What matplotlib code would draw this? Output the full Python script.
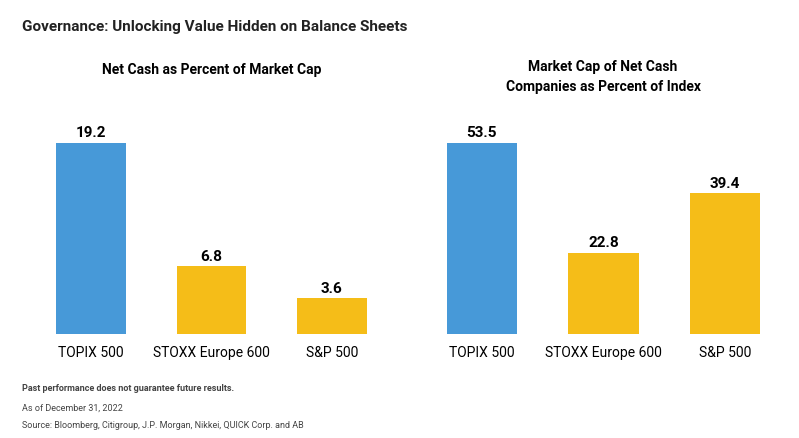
import matplotlib.pyplot as plt

labels = ["TOPIX 500", "STOXX Europe 600", "S&P 500"]
net_cash_pct = [19.2, 6.8, 3.6]
net_cash_cos_pct = [53.5, 22.8, 39.4]
colors = ["#4799d8", "#f5bd18", "#f5bd18"]

W, H = 799, 439
fig = plt.figure(figsize=(W / 100, H / 100), dpi=100)
plt.rcParams['font.family'] = ['Roboto', 'DejaVu Sans']

def px_axes(x0, x1, y0, y1):
  return fig.add_axes([x0 / W, 1 - y1 / H, (x1 - x0) / W, (y1 - y0) / H])

def panel(ax, values, ymax):
  x = range(len(values))
  ax.bar(x, values, width=0.58, color=colors)
  for i, v in enumerate(values):
    ax.text(i, v + ymax * 0.015, f"{v:.1f}", ha='center', va='bottom',
            fontsize=11, fontweight='bold')
  ax.set_xlim(-0.5, 2.5)
  ax.set_ylim(0, ymax)
  ax.set_xticks(list(x))
  ax.set_xticklabels(labels, fontsize=10)
  ax.tick_params(axis='x', length=0, pad=8)
  ax.set_yticks([])
  for s in ax.spines.values():
    s.set_visible(False)

ax1 = px_axes(31, 392, 100, 335)
panel(ax1, net_cash_pct, 23.6)
ax2 = px_axes(421, 786, 100, 335)
panel(ax2, net_cash_cos_pct, 65.8)

fig.text(22 / W, 1 - 27 / H, "Governance: Unlocking Value Hidden on Balance Sheets",
         fontsize=11, fontweight='bold', va='center', color='#222222')
fig.text(212 / W, 1 - 70 / H, "Net Cash as Percent of Market Cap",
         fontsize=10, fontweight='bold', ha='center', va='center')
fig.text(603 / W, 1 - 77 / H, "Market Cap of Net Cash\nCompanies as Percent of Index",
         fontsize=10, fontweight='bold', ha='center', va='center', linespacing=1.5)
fig.text(22 / W, 1 - 389 / H, "Past performance does not guarantee future results.",
         fontsize=6.5, fontweight='bold', va='center', color='#444444')
fig.text(22 / W, 1 - 408 / H, "As of December 31, 2022",
         fontsize=6.5, va='center', color='#444444')
fig.text(22 / W, 1 - 426 / H, "Source: Bloomberg, Citigroup, J.P. Morgan, Nikkei, QUICK Corp. and AB",
         fontsize=6.5, va='center', color='#444444')

fig.savefig("out.png", dpi=100)
